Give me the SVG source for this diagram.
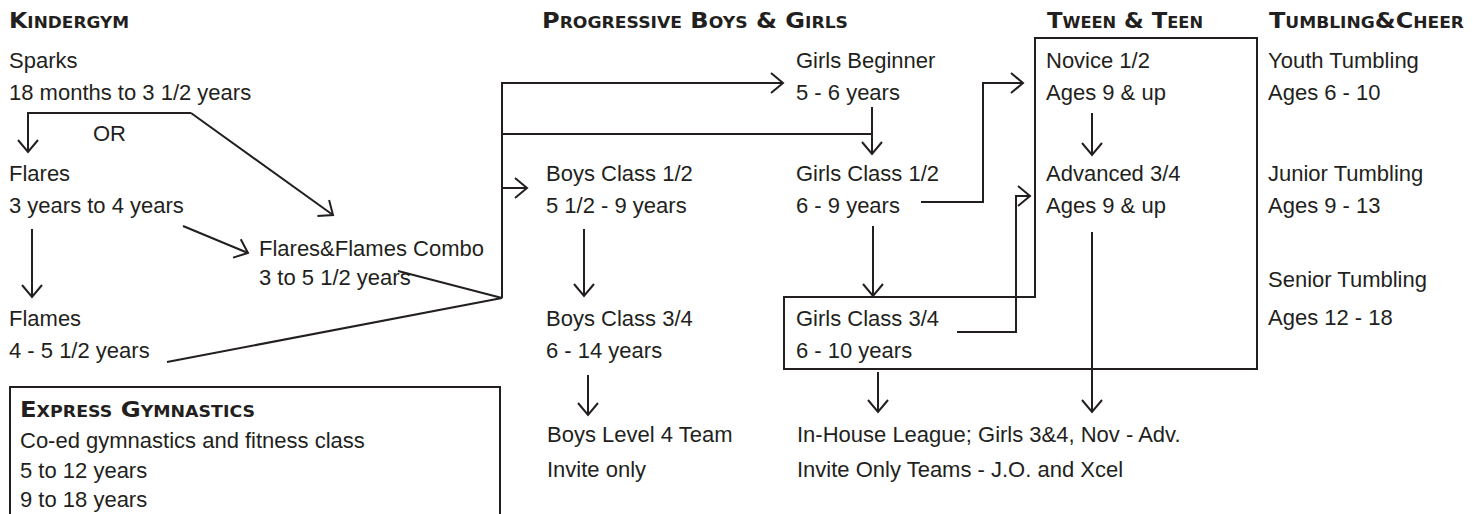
<svg xmlns="http://www.w3.org/2000/svg" width="1473" height="514" viewBox="0 0 1473 514">
<defs>
<marker id="ah" markerUnits="userSpaceOnUse" viewBox="-14 -12 16 24" refX="0" refY="0" markerWidth="16" markerHeight="24" orient="auto">
<path d="M-12,-10 L0,0 L-12,10" fill="none" stroke="#231f20" stroke-width="2"/>
</marker>
</defs>
<style>
text{font-family:"Liberation Sans",Arial,sans-serif;font-size:22px;fill:#231f20}
.h{font-family:"DejaVu Sans","Liberation Sans",sans-serif;font-weight:bold;font-variant:small-caps;font-size:21px}
.c{fill:none;stroke:#231f20;stroke-width:2}
.a{marker-end:url(#ah)}
.b{fill:none;stroke:#231f20;stroke-width:2}
</style>
<rect width="1473" height="514" fill="#fff"/>
<g id="headings">
<text class="h" x="9" y="28" textLength="120" lengthAdjust="spacingAndGlyphs">Kindergym</text>
<text class="h" x="542" y="28" textLength="306" lengthAdjust="spacingAndGlyphs">Progressive Boys &amp; Girls</text>
<text class="h" x="1047" y="28" textLength="156" lengthAdjust="spacingAndGlyphs">Tween &amp; Teen</text>
<text class="h" x="1269" y="28" textLength="195" lengthAdjust="spacingAndGlyphs">Tumbling&amp;Cheer</text>
</g>
<g id="sparks"><text x="9" y="68">Sparks</text><text x="9" y="100">18 months to 3 1/2 years</text></g>
<g id="or"><text x="93" y="141">OR</text></g>
<g id="flares"><text x="9" y="181">Flares</text><text x="9" y="213">3 years to 4 years</text></g>
<g id="combo"><text x="259" y="256">Flares&amp;Flames Combo</text><text x="259" y="285">3 to 5 1/2 years</text></g>
<g id="flames"><text x="9" y="326">Flames</text><text x="9" y="358">4 - 5 1/2 years</text></g>
<g id="express">
<rect class="b" x="10" y="387" width="490" height="140"/>
<text class="h" x="20" y="417" textLength="235" lengthAdjust="spacingAndGlyphs">Express Gymnastics</text>
<text x="20" y="448">Co-ed gymnastics and fitness class</text>
<text x="20" y="478">5 to 12 years</text>
<text x="20" y="507">9 to 18 years</text>
</g>
<g id="girls-beginner"><text x="796" y="68">Girls Beginner</text><text x="796" y="100">5 - 6 years</text></g>
<g id="boys12"><text x="546" y="181">Boys Class 1/2</text><text x="546" y="213">5 1/2 - 9 years</text></g>
<g id="girls12"><text x="796" y="181">Girls Class 1/2</text><text x="796" y="213">6 - 9 years</text></g>
<g id="boys34"><text x="546" y="326">Boys Class 3/4</text><text x="546" y="358">6 - 14 years</text></g>
<g id="girls34-tween">
<path class="b" d="M784,297 H1035 V38 H1257 V369 H784 Z"/>
<text x="796" y="326">Girls Class 3/4</text><text x="796" y="358">6 - 10 years</text>
</g>
<g id="novice"><text x="1046" y="68">Novice 1/2</text><text x="1046" y="100">Ages 9 &amp; up</text></g>
<g id="advanced"><text x="1046" y="181">Advanced 3/4</text><text x="1046" y="213">Ages 9 &amp; up</text></g>
<g id="boys-level4"><text x="547" y="442">Boys Level 4 Team</text><text x="547" y="477">Invite only</text></g>
<g id="teams"><text x="797" y="442">In-House League; Girls 3&amp;4, Nov - Adv.</text><text x="797" y="477">Invite Only Teams - J.O. and Xcel</text></g>
<g id="youth"><text x="1268" y="68">Youth Tumbling</text><text x="1268" y="100">Ages 6 - 10</text></g>
<g id="junior"><text x="1268" y="181">Junior Tumbling</text><text x="1268" y="213">Ages 9 - 13</text></g>
<g id="senior"><text x="1268" y="287">Senior Tumbling</text><text x="1268" y="325">Ages 12 - 18</text></g>
<g id="connectors">
<path class="c a" d="M191,113 H28 V152"/>
<path class="c a" d="M191,113 L333,215"/>
<path class="c a" d="M32,229 V297"/>
<path class="c a" d="M183,226 L248,253"/>
<path class="c" d="M398,271 L502,298 L167,362"/>
<path class="c a" d="M502,298 V83 H783"/>
<path class="c" d="M502,134 H872"/>
<path class="c a" d="M872,107 V154"/>
<path class="c a" d="M502,188 H527"/>
<path class="c a" d="M584,229 V296"/>
<path class="c a" d="M873,226 V296"/>
<path class="c a" d="M921,202 H983 V83 H1023"/>
<path class="c a" d="M957,332 H1016 V196 H1030"/>
<path class="c a" d="M1092,113 V155"/>
<path class="c a" d="M588,375 V415"/>
<path class="c a" d="M878,372 V412"/>
<path class="c a" d="M1092,232 V412"/>
</g>
</svg>
